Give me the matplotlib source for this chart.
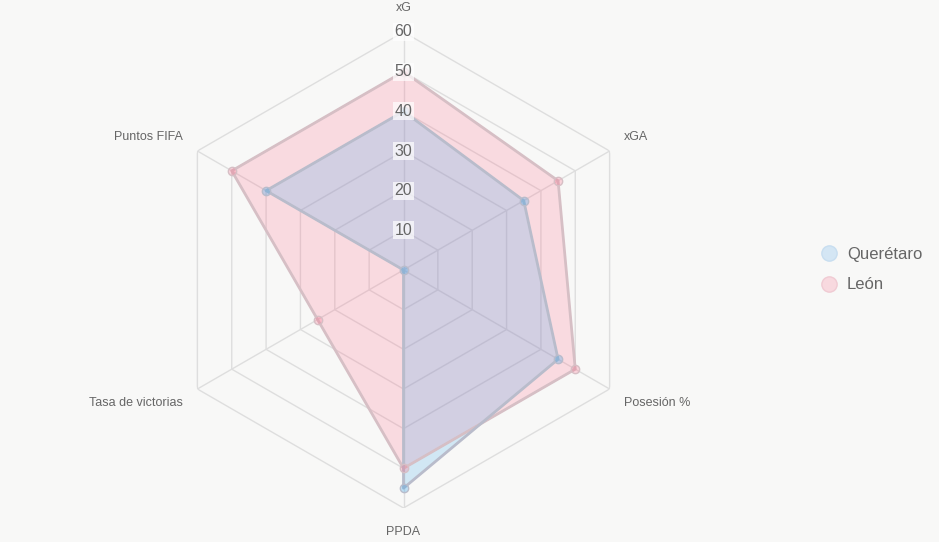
import numpy as np
import matplotlib.pyplot as plt
from matplotlib.lines import Line2D

categories = ['xG', 'xGA', 'Posesión %', 'PPDA', 'Tasa de victorias', 'Puntos FIFA']
queretaro = [40, 35, 45, 55, 0, 40]
leon = [50, 45, 50, 50, 25, 50]
ticks = [10, 20, 30, 40, 50, 60]

bg = '#f8f8f7'
text_col = '#666666'
grid_col = '#dedede'

plt.rcParams['font.family'] = ['Liberation Sans', 'DejaVu Sans']

fig = plt.figure(figsize=(9.39, 5.42), dpi=100, facecolor=bg)
ax = fig.add_axes([165.5 / 939, (542 - 508) / 542, 476 / 939, 476 / 542], projection='polar')
ax.set_theta_offset(np.pi / 2)
ax.set_theta_direction(-1)
ax.set_ylim(0, 60)
ax.grid(False)
ax.set_xticks([])
ax.set_yticks([])
ax.spines['polar'].set_visible(False)
ax.patch.set_alpha(0)

angles = np.linspace(0, 2 * np.pi, len(categories), endpoint=False)
closed = np.append(angles, angles[0])

# hexagon grid + spokes
for r in ticks:
    ax.plot(closed, [r] * len(closed), color=grid_col, lw=1, zorder=1)
for a in angles:
    ax.plot([a, a], [0, 60], color=grid_col, lw=1, zorder=1)

series = [
    ('León', leon, (1.0, 0.39, 0.52, 0.2), '#d6bfc5', (1.0, 0.39, 0.52, 0.25)),
    ('Querétaro', queretaro, (0.21, 0.64, 0.92, 0.2), '#b9bccb', (0.21, 0.64, 0.92, 0.3)),
]
for name, vals, fill, edge, pt in series:
    v = np.append(vals, vals[0])
    ax.fill(closed, v, color=fill, zorder=2)
    ax.plot(closed, v, color=edge, lw=2, zorder=3)
    ax.plot(angles, vals, 'o', ms=6, mfc=pt, mec=edge, mew=1, zorder=4, clip_on=False)

# radial tick labels
for r in ticks:
    ax.text(0, r, str(r), ha='center', va='center', fontsize=11.5, color=text_col, zorder=6,
            bbox=dict(boxstyle='square,pad=0.1', fc='white', ec='none', alpha=0.7))

# axis labels
label_pos = [
    (66, 'center', 'center'),
    (64.2, 'left', 'bottom'),
    (64.2, 'left', 'top'),
    (66, 'center', 'center'),
    (64.2, 'right', 'top'),
    (64.2, 'right', 'bottom'),
]
for a, cat, (r, ha, va) in zip(angles, categories, label_pos):
    ax.text(a, r, cat, ha=ha, va=va, fontsize=9, color=text_col, clip_on=False)

handles = [
    Line2D([], [], ls='none', marker='o', ms=11, mfc='#d4e6f4', mec='#c8def0'),
    Line2D([], [], ls='none', marker='o', ms=11, mfc='#f8d9df', mec='#f0cbd3'),
]
leg = fig.legend(handles, ['Querétaro', 'León'], loc='center left',
                 bbox_to_anchor=(812 / 939, 1 - 269.5 / 542), frameon=False,
                 fontsize=12, labelcolor=text_col, handlelength=1.0,
                 handletextpad=0.6, labelspacing=0.95, borderpad=0)

fig.savefig('out.png', dpi=100, facecolor=bg)
